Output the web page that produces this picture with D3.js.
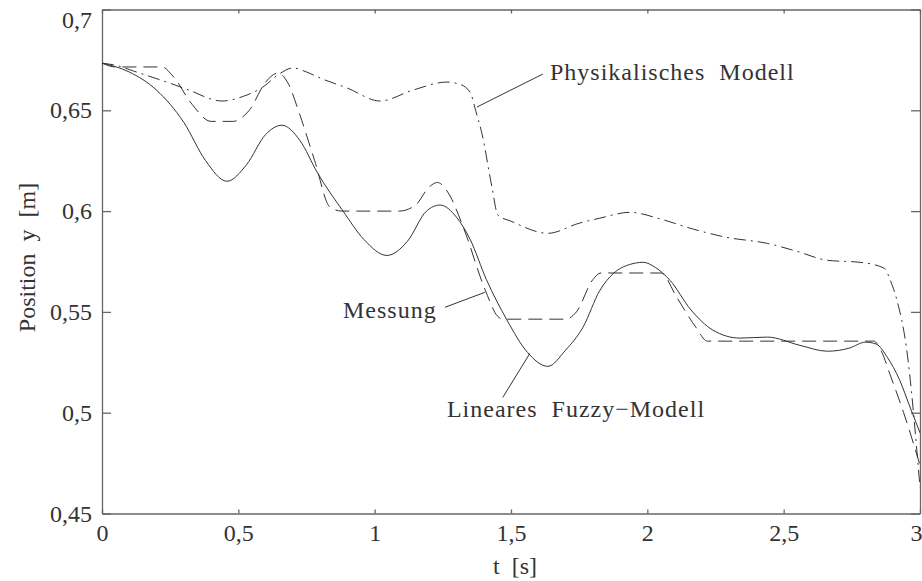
<!DOCTYPE html>
<html>
<head>
<meta charset="utf-8">
<script src="https://cdn.jsdelivr.net/npm/d3@7"></script>
</head>
<body style="margin:0; background:#fff">
<div id="chart"></div>
<script>
// time axis [s] and position [m] for each curve
var messungT = [0, 0.1, 0.2, 0.3, 0.38, 0.458, 0.53, 0.6, 0.66, 0.726, 0.79, 0.884, 0.96, 1.045, 1.12, 1.19, 1.24, 1.3, 1.35, 1.41, 1.485, 1.56, 1.635, 1.7, 1.764, 1.826, 1.875, 1.935, 1.985, 2.03, 2.083, 2.16, 2.24, 2.34, 2.44, 2.56, 2.66, 2.74, 2.8, 2.84, 2.88, 2.926, 2.96, 3.0];
var messungY = [0.6734, 0.669, 0.660, 0.644, 0.625, 0.6148, 0.623, 0.638, 0.6426, 0.635, 0.619, 0.600, 0.586, 0.578, 0.585, 0.600, 0.603, 0.597, 0.586, 0.566, 0.546, 0.530, 0.523, 0.531, 0.5424, 0.5607, 0.569, 0.5735, 0.5746, 0.572, 0.5657, 0.551, 0.541, 0.537, 0.5375, 0.5334, 0.5305, 0.532, 0.535, 0.534, 0.5275, 0.516, 0.504, 0.490];

var fuzzyT = [0, 0.05, 0.22, 0.26, 0.33, 0.40, 0.48, 0.54, 0.6, 0.646, 0.68, 0.726, 0.78, 0.836, 0.88, 1.09, 1.15, 1.2, 1.23, 1.27, 1.325, 1.405, 1.45, 1.47, 1.70, 1.74, 1.80, 1.83, 2.05, 2.108, 2.18, 2.22, 2.83, 2.86, 2.89, 2.94, 2.98, 3.0];
var fuzzyY = [0.6734, 0.6715, 0.6715, 0.667, 0.653, 0.6445, 0.6445, 0.650, 0.664, 0.6685, 0.664, 0.6476, 0.625, 0.602, 0.600, 0.600, 0.603, 0.612, 0.6142, 0.609, 0.592, 0.561, 0.548, 0.5464, 0.5464, 0.550, 0.566, 0.5693, 0.5693, 0.5572, 0.542, 0.5355, 0.5355, 0.530, 0.519, 0.500, 0.483, 0.474];

var physT = [0, 0.06, 0.115, 0.237, 0.31, 0.44, 0.52, 0.59, 0.65, 0.70, 0.75, 0.80, 0.9, 1.02, 1.14, 1.265, 1.31, 1.35, 1.37, 1.393, 1.43, 1.452, 1.5, 1.635, 1.75, 1.826, 1.936, 2.05, 2.17, 2.29, 2.44, 2.55, 2.66, 2.78, 2.87, 2.89, 2.915, 2.95, 3.0];
var physY = [0.6734, 0.672, 0.6695, 0.664, 0.6605, 0.6546, 0.657, 0.6615, 0.668, 0.671, 0.669, 0.666, 0.661, 0.6546, 0.660, 0.664, 0.663, 0.659, 0.650, 0.6387, 0.612, 0.598, 0.595, 0.589, 0.594, 0.5965, 0.5994, 0.596, 0.591, 0.587, 0.584, 0.580, 0.5756, 0.5746, 0.5716, 0.566, 0.556, 0.5325, 0.463];

var xTicks = [0, 0.5, 1, 1.5, 2, 2.5, 3];
var yTicks = [0.45, 0.5, 0.55, 0.6, 0.65, 0.7];

// labels with leader lines, in data coordinates
var annotations = [
  {text: 'Physikalisches  Modell', t: 1.643, v: 0.665, from: [1.617, 0.668], to: [1.375, 0.6516]},
  {text: 'Messung', t: 0.884, v: 0.5468, from: [1.258, 0.5523], to: [1.404, 0.5597]},
  {text: 'Lineares  Fuzzy\u2212Modell', t: 1.265, v: 0.4977, from: [1.470, 0.5076], to: [1.569, 0.5294]}
];

var FONT = '"Liberation Serif", "Times New Roman", serif';
var W = 922, H = 581;
var margin = {top: 9.5, right: 2, bottom: 67.5, left: 102},
    width = W - margin.left - margin.right,
    height = H - margin.top - margin.bottom;

var x = d3.scaleLinear().domain([0, 3]).range([0, width]);
var y = d3.scaleLinear().domain([0.45, 0.7]).range([height, 0]);
var fmt = function(d) { return String(d).replace('.', ','); };

var svg = d3.select('#chart').append('svg')
    .attr('width', W).attr('height', H)
    .style('font-family', FONT)
    .append('g')
    .attr('transform', 'translate(' + margin.left + ',' + margin.top + ')');

function styleAxis(g) {
  g.attr('font-family', null).attr('font-size', null);
  g.selectAll('path, line').attr('stroke', '#666').attr('stroke-width', 1.3);
  g.selectAll('text')
      .attr('font-family', FONT).style('font-family', FONT)
      .style('font-size', '24px').attr('fill', '#333');
}

svg.append('g').attr('transform', 'translate(0,' + height + ')')
    .call(d3.axisBottom(x).tickValues(xTicks).tickFormat(fmt).tickSizeInner(-4).tickSizeOuter(0).tickPadding(10))
    .call(styleAxis)
    .selectAll('text').filter(function(d) { return d === 3; })
    .attr('text-anchor', 'end').attr('dx', 2);
svg.append('g')
    .call(d3.axisTop(x).tickValues(xTicks).tickFormat('').tickSizeInner(-4).tickSizeOuter(0))
    .call(styleAxis);
svg.append('g')
    .call(d3.axisLeft(y).tickValues(yTicks).tickFormat(fmt).tickSizeInner(-9).tickSizeOuter(0).tickPadding(10))
    .call(styleAxis)
    .selectAll('text').filter(function(d) { return d === 0.7; })
    .attr('dy', '0.75em');
svg.append('g').attr('transform', 'translate(' + width + ',0)')
    .call(d3.axisRight(y).tickValues(yTicks).tickFormat('').tickSizeInner(-9).tickSizeOuter(0))
    .call(styleAxis);

// axis labels
svg.append('text')
    .attr('x', width / 2 + 4).attr('y', height + 60)
    .attr('font-family', FONT).attr('fill', '#333')
    .style('text-anchor', 'middle').style('font-size', '24px').style('white-space', 'pre')
    .text('t  [s]');
svg.append('text')
    .attr('transform', 'rotate(-90)')
    .attr('x', -248).attr('y', -67)
    .attr('font-family', FONT).attr('fill', '#333')
    .style('text-anchor', 'middle').style('font-size', '24px').style('white-space', 'pre')
    .text('Position  y  [m]');

function makeLine(ts, vs) {
  return d3.line().curve(d3.curveMonotoneX)
      .x(function(d, i) { return x(ts[i]); })
      .y(function(d, i) { return y(vs[i]); })(ts);
}

svg.append('path').attr('d', makeLine(physT, physY))
    .attr('fill', 'none').attr('stroke', '#333').attr('stroke-width', 1)
    .attr('stroke-dasharray', '12,5,2,5');
svg.append('path').attr('d', makeLine(fuzzyT, fuzzyY))
    .attr('fill', 'none').attr('stroke', '#333').attr('stroke-width', 1)
    .attr('stroke-dasharray', '14,7');
svg.append('path').attr('d', makeLine(messungT, messungY))
    .attr('fill', 'none').attr('stroke', '#333').attr('stroke-width', 1);

annotations.forEach(function(a) {
  svg.append('line')
      .attr('x1', x(a.from[0])).attr('y1', y(a.from[1]))
      .attr('x2', x(a.to[0])).attr('y2', y(a.to[1]))
      .attr('stroke', '#333').attr('stroke-width', 1);
  svg.append('text')
      .attr('x', x(a.t)).attr('y', y(a.v))
      .attr('font-family', FONT).attr('fill', '#333')
      .style('font-size', '24px').style('letter-spacing', '1px').style('white-space', 'pre')
      .text(a.text);
});
</script>
</body>
</html>
